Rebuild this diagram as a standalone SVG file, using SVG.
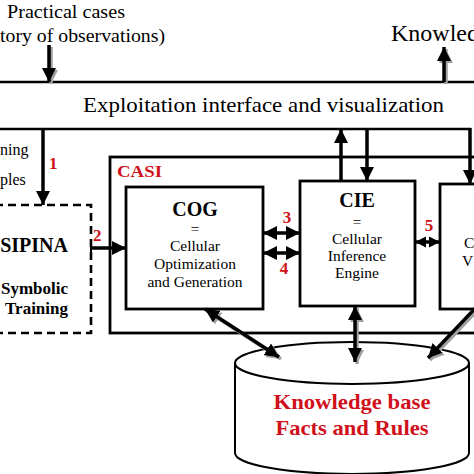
<svg xmlns="http://www.w3.org/2000/svg" width="474" height="474" viewBox="0 0 474 474">
<style>
  text { font-family: "Liberation Serif", "Times New Roman", serif; fill: #000; }
  .b { font-weight: bold; }
  .red { fill: #d0101a; font-weight: bold; }
  .box { fill: #fff; stroke: #000; stroke-width: 2.8; }
  .line { fill: none; stroke: #000; stroke-width: 2.4; }
  .arr { fill: none; stroke: #000; stroke-width: 3.5; }
  .sh { fill: none; stroke: #a0a0a0; stroke-width: 3.5; }
</style>
<defs>
  <marker id="ah" viewBox="0 0 10 10" refX="10" refY="5" markerUnits="userSpaceOnUse" markerWidth="14" markerHeight="14" orient="auto-start-reverse">
    <path d="M0,0 L10,5 L0,10 z" fill="#000"/>
  </marker>
  <marker id="ahs" viewBox="0 0 10 10" refX="10" refY="5" markerUnits="userSpaceOnUse" markerWidth="11" markerHeight="13" orient="auto-start-reverse">
    <path d="M0,0 L10,5 L0,10 z" fill="#000"/>
  </marker>
  <marker id="ahg" viewBox="0 0 10 10" refX="10" refY="5" markerUnits="userSpaceOnUse" markerWidth="14" markerHeight="14" orient="auto-start-reverse">
    <path d="M0,0 L10,5 L0,10 z" fill="#a0a0a0"/>
  </marker>
</defs>

<g id="inputs">
  <text x="7" y="18" font-size="18" textLength="118" lengthAdjust="spacingAndGlyphs">Practical cases</text>
  <text x="0" y="42" font-size="18" textLength="165" lengthAdjust="spacingAndGlyphs">tory of observations)</text>
  <text x="391" y="41" font-size="24">Knowled</text>
  <text x="0" y="155" font-size="16">ning</text>
  <text x="0" y="185" font-size="16">ples</text>
</g>

<g id="interface">
  <line class="line" x1="0" y1="82" x2="474" y2="82"/>
  <line class="line" x1="0" y1="129" x2="471" y2="129"/>
  <text x="83" y="112" font-size="21" textLength="361" lengthAdjust="spacingAndGlyphs">Exploitation interface and visualization</text>
</g>

<g id="sipina">
  <path d="M-5,205 H91 V333 H-5" fill="none" stroke="#000" stroke-width="2.6" stroke-dasharray="8,5"/>
  <text class="b" x="68" y="252" font-size="20" text-anchor="end">SIPINA</text>
  <text class="b" x="68" y="294" font-size="17" text-anchor="end">Symbolic</text>
  <text class="b" x="68" y="314" font-size="17" text-anchor="end">Training</text>
</g>

<g id="casi">
  <rect class="box" x="110" y="157" width="400" height="176"/>
  <text class="red" x="117" y="177" font-size="17" textLength="45" lengthAdjust="spacingAndGlyphs">CASI</text>
</g>

<g id="cog">
  <rect class="box" x="126" y="187" width="137" height="122"/>
  <text class="b" x="195" y="216" font-size="20" text-anchor="middle">COG</text>
  <text x="195" y="234" font-size="15" text-anchor="middle">=</text>
  <text x="195" y="251" font-size="15.5" text-anchor="middle">Cellular</text>
  <text x="195" y="269" font-size="15.5" text-anchor="middle">Optimization</text>
  <text x="195" y="287" font-size="15.5" text-anchor="middle">and Generation</text>
</g>

<g id="cie">
  <rect class="box" x="300" y="181" width="115" height="125"/>
  <text class="b" x="357" y="207" font-size="20" text-anchor="middle">CIE</text>
  <text x="357" y="227" font-size="15" text-anchor="middle">=</text>
  <text x="357" y="244" font-size="15.5" text-anchor="middle">Cellular</text>
  <text x="357" y="261" font-size="15.5" text-anchor="middle">Inference</text>
  <text x="357" y="278" font-size="15.5" text-anchor="middle">Engine</text>
</g>

<g id="cve">
  <rect class="box" x="440" y="184" width="60" height="125"/>
  <text x="464" y="248" font-size="15.5">C</text>
  <text x="462" y="266" font-size="15.5">V</text>
</g>

<g id="knowledge-base">
  <path d="M235,363 V453 A117,21 0 0 0 469,453 V363" fill="#fff" stroke="#000" stroke-width="2"/>
  <ellipse cx="352" cy="363" rx="117" ry="21" fill="#fff" stroke="#000" stroke-width="2"/>
  <text class="red" x="352" y="409" font-size="22" text-anchor="middle" textLength="157" lengthAdjust="spacingAndGlyphs">Knowledge base</text>
  <text class="red" x="352" y="435" font-size="22" text-anchor="middle" textLength="153" lengthAdjust="spacingAndGlyphs">Facts and Rules</text>
</g>

<g id="connectors">
  <line class="sh" x1="51" y1="47" x2="51" y2="84" marker-end="url(#ahg)"/>
  <line class="sh" x1="446" y1="84" x2="446" y2="49" marker-end="url(#ahg)"/>
  <line class="sh" x1="207" y1="311" x2="281" y2="359" marker-start="url(#ahg)" marker-end="url(#ahg)"/>
  <line class="sh" x1="357" y1="308" x2="357" y2="364" marker-start="url(#ahg)" marker-end="url(#ahg)"/>
  <line class="sh" x1="487" y1="300" x2="430" y2="360" marker-end="url(#ahg)"/>

  <line class="arr" x1="49" y1="45" x2="49" y2="82" marker-end="url(#ah)"/>
  <line class="arr" x1="444" y1="82" x2="444" y2="47" marker-end="url(#ah)"/>
  <line class="arr" x1="43" y1="129" x2="43" y2="205" marker-end="url(#ah)"/>
  <line class="arr" x1="341" y1="181" x2="341" y2="129" marker-end="url(#ah)"/>
  <line class="arr" x1="367" y1="129" x2="367" y2="181" marker-end="url(#ah)"/>
  <line class="arr" x1="470" y1="128" x2="470" y2="184" marker-end="url(#ah)"/>
  <line class="arr" x1="91" y1="248" x2="126" y2="248" marker-end="url(#ah)"/>
  <line x1="91" y1="242" x2="91" y2="254" stroke="#000" stroke-width="2"/>
  <line class="arr" x1="263" y1="233" x2="300" y2="233" marker-start="url(#ah)" marker-end="url(#ah)"/>
  <line class="arr" x1="263" y1="253" x2="300" y2="253" marker-start="url(#ah)" marker-end="url(#ah)"/>
  <line class="arr" x1="415" y1="242" x2="440" y2="242" marker-start="url(#ahs)" marker-end="url(#ahs)"/>
  <line class="arr" x1="205" y1="309" x2="279" y2="357" marker-start="url(#ah)" marker-end="url(#ah)"/>
  <line class="arr" x1="355" y1="306" x2="355" y2="362" marker-start="url(#ah)" marker-end="url(#ah)"/>
  <line class="arr" x1="485" y1="298" x2="428" y2="358" marker-end="url(#ah)"/>

  <text class="red" x="49" y="169" font-size="17">1</text>
  <text class="red" x="93" y="241" font-size="17">2</text>
  <text class="red" x="287" y="223" font-size="17" text-anchor="middle">3</text>
  <text class="red" x="284" y="274" font-size="17" text-anchor="middle">4</text>
  <text class="red" x="429" y="231" font-size="17" text-anchor="middle">5</text>
</g>
</svg>
